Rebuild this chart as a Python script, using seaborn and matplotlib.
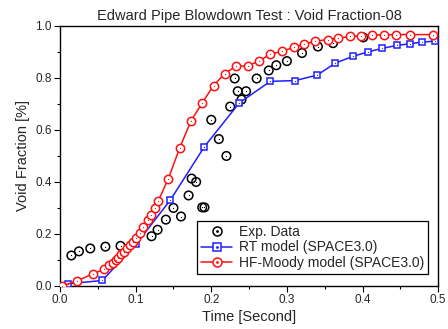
import numpy as np
import pandas as pd
import seaborn as sns
import matplotlib
matplotlib.use('Agg')
import matplotlib.pyplot as plt
from matplotlib.ticker import MultipleLocator
from matplotlib.lines import Line2D

# Experimental data
exp_t = [0.015, 0.025, 0.040, 0.060, 0.080, 0.121, 0.129, 0.140, 0.150, 0.160,
         0.170, 0.174, 0.180, 0.188, 0.191, 0.200, 0.210, 0.220, 0.225, 0.231,
         0.235, 0.240, 0.246, 0.260, 0.276, 0.286, 0.300, 0.320, 0.341, 0.361, 0.401]
exp_vf = [0.117, 0.133, 0.144, 0.151, 0.154, 0.191, 0.216, 0.255, 0.300, 0.267,
          0.348, 0.413, 0.400, 0.302, 0.302, 0.639, 0.565, 0.500, 0.690, 0.798,
          0.749, 0.717, 0.749, 0.798, 0.829, 0.849, 0.865, 0.896, 0.921, 0.934, 0.956]

# RT model (SPACE3.0)
rt_t = [0.011, 0.056, 0.101, 0.146, 0.191, 0.237, 0.278, 0.311, 0.340, 0.364,
        0.387, 0.407, 0.426, 0.445, 0.463, 0.479, 0.496]
rt_vf = [0.008, 0.021, 0.162, 0.331, 0.536, 0.704, 0.787, 0.790, 0.811, 0.857,
         0.883, 0.900, 0.914, 0.925, 0.932, 0.938, 0.942]

# HF-Moody model (SPACE3.0)
hf_t = [0.003, 0.023, 0.044, 0.058, 0.065, 0.0695, 0.0737, 0.077, 0.081, 0.0847,
        0.088, 0.0926, 0.097, 0.101, 0.106, 0.110, 0.116, 0.1205, 0.125, 0.130,
        0.143, 0.158, 0.173, 0.188, 0.203, 0.218, 0.233, 0.248, 0.263, 0.278,
        0.293, 0.309, 0.323, 0.3375, 0.354, 0.368, 0.384, 0.398, 0.413, 0.428,
        0.444, 0.463, 0.493]
hf_vf = [0.000, 0.020, 0.047, 0.064, 0.080, 0.089, 0.098, 0.109, 0.121, 0.132,
         0.144, 0.156, 0.168, 0.185, 0.204, 0.228, 0.252, 0.273, 0.300, 0.328,
         0.411, 0.529, 0.634, 0.704, 0.771, 0.817, 0.846, 0.846, 0.865, 0.891,
         0.902, 0.918, 0.930, 0.941, 0.948, 0.953, 0.960, 0.962, 0.965, 0.966,
         0.967, 0.967, 0.967]

sns.set_style('ticks')
plt.rcParams['font.family'] = ['Liberation Sans', 'DejaVu Sans']

df_exp = pd.DataFrame({'t': exp_t, 'vf': exp_vf})
df_rt = pd.DataFrame({'t': rt_t, 'vf': rt_vf})
df_hf = pd.DataFrame({'t': hf_t, 'vf': hf_vf})

fig = plt.figure(figsize=(4.48, 3.29), dpi=100)
ax = fig.add_axes([0.134, 0.131, 0.844, 0.790])

blue = '#1f1fff'
red = '#ff1010'

sns.scatterplot(data=df_exp, x='t', y='vf', ax=ax, marker='o', s=38,
                facecolor='none', edgecolor='black', linewidth=1.1, zorder=3)
sns.scatterplot(data=df_exp, x='t', y='vf', ax=ax, marker='.', s=3,
                color='black', linewidth=0, zorder=4)

sns.lineplot(data=df_rt, x='t', y='vf', ax=ax, color=blue, lw=1.1, sort=False,
             marker='s', markersize=5, markerfacecolor='white',
             markeredgecolor=blue, markeredgewidth=1.1, zorder=5)
sns.scatterplot(data=df_rt, x='t', y='vf', ax=ax, marker='.', s=3,
                color=blue, linewidth=0, zorder=6)

sns.lineplot(data=df_hf, x='t', y='vf', ax=ax, color=red, lw=1.1, sort=False,
             marker='o', markersize=6, markerfacecolor='white',
             markeredgecolor=red, markeredgewidth=1.1, zorder=7)
sns.scatterplot(data=df_hf, x='t', y='vf', ax=ax, marker='.', s=3,
                color=red, linewidth=0, zorder=8)

ax.set_xlim(0, 0.5)
ax.set_ylim(0, 1.0)
ax.xaxis.set_major_locator(MultipleLocator(0.1))
ax.xaxis.set_minor_locator(MultipleLocator(0.05))
ax.yaxis.set_major_locator(MultipleLocator(0.2))
ax.yaxis.set_minor_locator(MultipleLocator(0.1))
ax.xaxis.set_major_formatter(plt.FormatStrFormatter('%.1f'))
ax.yaxis.set_major_formatter(plt.FormatStrFormatter('%.1f'))
for s in ax.spines.values():
    s.set_visible(True)
    s.set_linewidth(1.0)
    s.set_color('black')
ax.tick_params(which='both', direction='out', top=False, right=False,
               labelsize=8.5, width=0.8, color='black', pad=2)
ax.tick_params(which='major', length=4)
ax.tick_params(which='minor', length=2.5)

ax.set_xlabel('Time [Second]', fontsize=10.5, labelpad=3)
ax.set_ylabel('Void Fraction [%]', fontsize=10.5, labelpad=4)
ax.set_title('Edward Pipe Blowdown Test : Void Fraction-08', fontsize=10.5, pad=4)

# legend
h_exp = (Line2D([], [], ls='none', marker='o', ms=6.5, mfc='none', mec='black', mew=1.1),
         Line2D([], [], ls='none', marker='.', ms=2, color='black'))
h_rt = (Line2D([], [], color=blue, lw=1.1, marker='s', ms=5.5, mfc='white', mec=blue, mew=1.1),
        Line2D([], [], ls='none', marker='.', ms=2, color=blue))
h_hf = (Line2D([], [], color=red, lw=1.1, marker='o', ms=6.5, mfc='white', mec=red, mew=1.1),
        Line2D([], [], ls='none', marker='.', ms=2, color=red))
leg = ax.legend([h_exp, h_rt, h_hf],
                ['Exp. Data', 'RT model (SPACE3.0)', 'HF-Moody model (SPACE3.0)'],
                loc='lower right', bbox_to_anchor=(0.974, 0.046), borderaxespad=0,
                fontsize=10, frameon=True, fancybox=False, edgecolor='black',
                framealpha=1, handlelength=2.2, handletextpad=0.5,
                labelspacing=0.1, borderpad=0.3)
leg.get_frame().set_linewidth(0.9)

fig.savefig('out.png', dpi=100)
